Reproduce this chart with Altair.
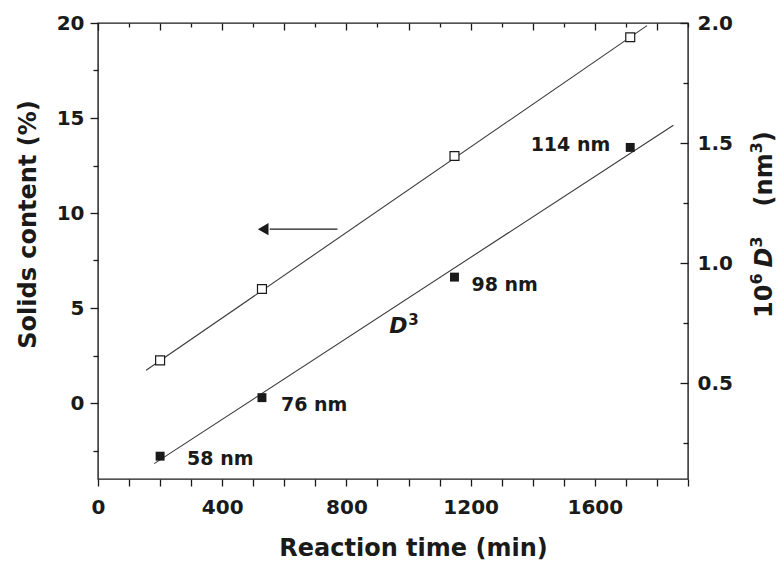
import altair as alt
import pandas as pd

# Sampling times (min)
time_min = [200, 528, 1148, 1714]
# Solids content (%) at those times
solids_pct = [2.24, 6.0, 13.0, 19.25]
# Particle diameter (nm) at those times
diameter_nm = [58, 76, 98, 114]

# End points of the straight-line fits
solids_fit_time = [155, 1768]
solids_fit_pct = [1.72, 19.86]
d3_fit_time = [181, 1853]
d3_fit_val = [0.164, 1.574]

# Arrow pointing towards the left-hand axis
arrow_time = [553, 771]
arrow_pct = [9.15, 9.15]
arrow_tip_time = [532]
arrow_tip_pct = [9.15]

# Anchor of the "D³" curve label
d3_label_time = [938]
d3_label_val = [0.737]

W, H = 590, 456
FONT = "DejaVu Sans"
INK = "#1a1a1a"
LINE = "#3a3a3a"

solids = pd.DataFrame({"t": time_min, "s": solids_pct})
solids_fit = pd.DataFrame({"t": solids_fit_time, "s": solids_fit_pct})
arrow = pd.DataFrame({"t": arrow_time, "s": arrow_pct})
arrow_tip = pd.DataFrame({"t": arrow_tip_time, "s": arrow_tip_pct})

d3 = pd.DataFrame({
    "t": time_min,
    "v": [d ** 3 / 1e6 for d in diameter_nm],
    "lab": [f"{d} nm" for d in diameter_nm],
})
d3_fit = pd.DataFrame({"t": d3_fit_time, "v": d3_fit_val})
d3_label = pd.DataFrame({"t": d3_label_time, "v": d3_label_val})

XS = alt.Scale(domain=[0, 1900], nice=False, zero=False)
YL = alt.Scale(domain=[-4, 20], nice=False, zero=False)
YR = alt.Scale(domain=[0.1, 2.0], nice=False, zero=False)

style = dict(
    grid=False, domain=False, tickColor=INK, tickWidth=1.3,
    labelFont=FONT, labelFontSize=20, labelFontWeight="bold", labelColor=INK,
    titleFont=FONT, titleFontSize=24, titleFontWeight="bold", titleColor=INK,
)

# ---- solids-content series (left axis, bottom axis) ----
x_bottom = alt.X("t:Q", scale=XS, axis=alt.Axis(
    orient="bottom", values=list(range(0, 1901, 100)), format="d",
    labelExpr="datum.value % 400 === 0 ? datum.label : ''",
    labelOverlap=False, labelFlush=False, tickSize=7, labelPadding=11,
    title="Reaction time (min)", titleX=315, titleY=69,
    titleAlign="center", titleBaseline="middle", **style))
y_left = alt.Y("s:Q", scale=YL, axis=alt.Axis(
    orient="left", values=[0, 5, 10, 15, 20], format="d",
    tickSize=8, labelPadding=6, labelFlush=False,
    title="Solids content (%)", titleAngle=270, titleX=-70, titleY=201,
    titleAlign="center", titleBaseline="middle", **style))

layer_solids = alt.layer(
    alt.Chart(solids_fit).mark_line(color=LINE, strokeWidth=1.1).encode(x=x_bottom, y=y_left),
    alt.Chart(arrow).mark_line(color=INK, strokeWidth=1.4).encode(x=x_bottom, y=y_left),
    alt.Chart(arrow_tip).mark_point(shape="triangle-left", filled=True, color=INK,
                                    size=150, opacity=1).encode(x=x_bottom, y=y_left),
    alt.Chart(solids).mark_point(shape="square", filled=True, fill="white", stroke=INK,
                                 strokeWidth=1.2, size=80, opacity=1).encode(x=x_bottom, y=y_left),
)

# ---- extra tick rows: top major / left minor ----
x_top_major = alt.X("t:Q", scale=XS, axis=alt.Axis(
    orient="bottom", offset=-H, values=list(range(0, 1901, 200)),
    labels=False, tickSize=7, title=None, **style))
y_left_minor = alt.Y("s:Q", scale=YL, axis=alt.Axis(
    orient="left", values=[-2.5, 2.5, 7.5, 12.5, 17.5],
    labels=False, tickSize=5, title=None, **style))
layer_ticks_a = alt.Chart(solids).mark_point(opacity=0).encode(x=x_top_major, y=y_left_minor)

# ---- D³ series (right axis) ----
x_top_minor = alt.X("t:Q", scale=XS, axis=alt.Axis(
    orient="bottom", offset=-H, values=list(range(100, 1901, 200)),
    labels=False, tickSize=4, title=None, **style))
y_right = alt.Y("v:Q", scale=YR, axis=alt.Axis(
    orient="right", values=[0.5, 1.0, 1.5, 2.0], format=".1f",
    ticks=False, tickSize=0, labelPadding=9, labelFlush=False,
    title=None, **style))

label_offsets = {
    "58 nm": (27, 3, "left"),
    "76 nm": (19, 7, "left"),
    "98 nm": (17, 8, "left"),
    "114 nm": (-20, -2, "right"),
}
point_labels = [
    alt.Chart(d3).transform_filter(alt.datum.lab == name).mark_text(
        font=FONT, fontSize=19, fontWeight="bold", color=INK,
        align=al, baseline="middle", dx=dx, dy=dy,
    ).encode(x=x_top_minor, y=y_right, text="lab:N")
    for name, (dx, dy, al) in label_offsets.items()
]

layer_d3 = alt.layer(
    alt.Chart(d3_fit).mark_line(color=LINE, strokeWidth=1.1).encode(x=x_top_minor, y=y_right),
    alt.Chart(d3).mark_point(shape="square", filled=True, color=INK, size=80,
                             opacity=1).encode(x=x_top_minor, y=y_right),
    *point_labels,
    alt.Chart(d3_label).mark_text(font=FONT, fontSize=22, fontWeight="bold",
                                  fontStyle="italic", color=INK, align="left",
                                  baseline="middle").encode(
        x=x_top_minor, y=y_right, text=alt.value("D")),
    alt.Chart(d3_label).mark_text(font=FONT, fontSize=15, fontWeight="bold",
                                  color=INK, align="left", baseline="middle",
                                  dx=19, dy=-6).encode(
        x=x_top_minor, y=y_right, text=alt.value("3")),
)

# ---- inward ticks on the right-hand side ----
x_none = alt.X("t:Q", scale=XS, axis=None)
y_right_in_major = alt.Y("v:Q", scale=YR, axis=alt.Axis(
    orient="left", offset=-W, values=[0.5, 1.0, 1.5, 2.0],
    labels=False, tickSize=8, title=None, **style))
y_right_in_minor = alt.Y("v:Q", scale=YR, axis=alt.Axis(
    orient="left", offset=-W, values=[0.25, 0.75, 1.25, 1.75],
    labels=False, tickSize=5, title=None, **style))
layer_ticks_b = alt.Chart(d3).mark_point(opacity=0).encode(x=x_none, y=y_right_in_major)
layer_ticks_c = alt.Chart(d3).mark_point(opacity=0).encode(x=x_none, y=y_right_in_minor)

# ---- right-axis title "10⁶ D³ (nm³)", set piece by piece, read bottom-to-top ----
# (text, font size, italic, raised, gap before)
title_pieces = [
    ("10", 24, False, False, 0),
    ("6", 16, False, True, 0),
    ("D", 24, True, False, 6),
    ("3", 16, False, True, 0),
    ("(nm", 24, False, False, 30),
    ("3", 16, False, True, 0),
    (")", 24, False, False, 0),
]
char_w = {"1": 0.696, "0": 0.696, "6": 0.696, "3": 0.696, "D": 0.83,
          "(": 0.457, ")": 0.457, "n": 0.712, "m": 1.042}
title_x = W + 77
pos = 295
title_marks = []
one_row = pd.DataFrame({"k": [0]})
for txt, size, italic, raised, gap in title_pieces:
    pos -= gap
    extra = {"fontStyle": "italic"} if italic else {}
    title_marks.append(
        alt.Chart(one_row).mark_text(
            font=FONT, fontSize=size, fontWeight="bold", color=INK,
            angle=270, align="left", baseline="middle", **extra,
        ).encode(x=alt.value(title_x - (8 if raised else 0)), y=alt.value(pos),
                 text=alt.value(txt))
    )
    pos -= sum(char_w[c] for c in txt) * size
layer_title = alt.layer(*title_marks)

chart = (
    alt.layer(layer_solids, layer_ticks_a, layer_d3, layer_ticks_b, layer_ticks_c, layer_title)
    .resolve_scale(x="independent", y="independent")
    .properties(
        width=W, height=H,
        padding={"left": 98, "top": 23, "right": 93, "bottom": 84},
        autosize=alt.AutoSizeParams(type="none"),
        background="white",
    )
    .configure_view(stroke=INK, strokeWidth=1.4)
)

chart.save("out.html", embed_options={"renderer": "svg", "actions": False})
